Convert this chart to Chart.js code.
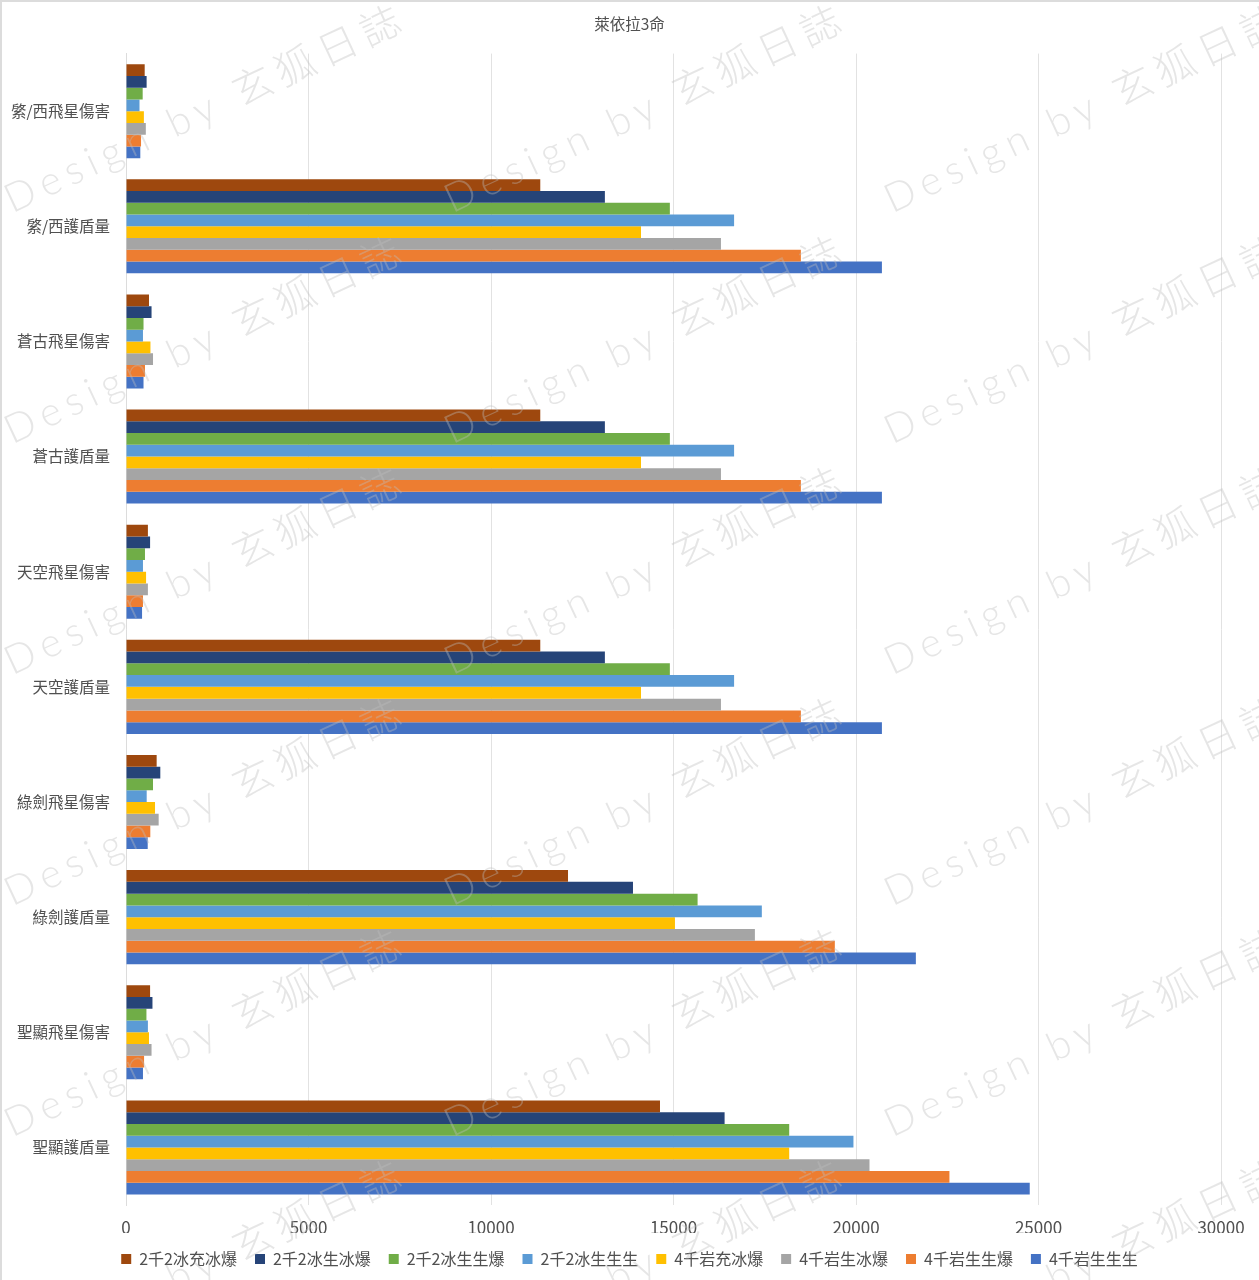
<!DOCTYPE html>
<html lang="zh-Hant">
<head>
<meta charset="utf-8">
<title>萊依拉3命</title>
<script src="https://cdn.jsdelivr.net/npm/chart.js@4/dist/chart.umd.min.js"></script>
<style>
    html, body { margin: 0; padding: 0; background: #fff; }
    #wrap { position: relative; width: 1259px; height: 1280px; overflow: hidden; }
    #wrap canvas { display: block; }
    #moldura { position: absolute; inset: 0; border-left: 2px solid #dcdcdc; border-top: 2px solid #dcdcdc; pointer-events: none; }
    .marca {
        position: absolute;
        transform-origin: 0 50%;
        transform: rotate(-25deg);
        white-space: nowrap;
        pointer-events: none;
        font-family: Lato, 'Noto Sans CJK TC', sans-serif;
        font-weight: 300;
        font-size: 40px;
        line-height: 40px;
        letter-spacing: 7px;
        color: rgba(190, 190, 190, 0.38);
    }
</style>
</head>
<body>
<div id="wrap">
    <canvas id="grafico" width="1259" height="1280"></canvas>
    <div id="moldura"></div>
</div>
<script>
// ── Dados ────────────────────────────────────────────────────────
const titulo = '萊依拉3命';

const categorias = [
    '綮/西飛星傷害', '綮/西護盾量',
    '蒼古飛星傷害', '蒼古護盾量',
    '天空飛星傷害', '天空護盾量',
    '綠劍飛星傷害', '綠劍護盾量',
    '聖顯飛星傷害', '聖顯護盾量'
];

const nomesSeries = [
    '2千2冰充冰爆', '2千2冰生冰爆', '2千2冰生生爆', '2千2冰生生生',
    '4千岩充冰爆', '4千岩生冰爆', '4千岩生生爆', '4千岩生生生'
];

const coresSeries = ['#9E480E', '#264478', '#70AD47', '#5B9BD5', '#FFC000', '#A5A5A5', '#ED7D31', '#4472C4'];

const serie2c2bCB = [512, 11350, 630, 11350, 600, 11350, 840, 12110, 660, 14630];
const serie2s2bCB = [565, 13120, 700, 13120, 660, 13120, 940, 13890, 725, 16400];
const serie2s2bSB = [457, 14900, 480, 14900, 520, 14900, 740, 15660, 560, 18170];
const serie2s2bSS = [370, 16660, 465, 16660, 465, 16660, 567, 17420, 600, 19930];
const serie4cCB   = [490, 14110, 670, 14110, 550, 14110, 795, 15040, 630, 18170];
const serie4sCB   = [543, 16300, 740, 16300, 600, 16300, 895, 17230, 700, 20370];
const serie4sSB   = [412, 18490, 520, 18490, 465, 18490, 666, 19420, 495, 22560];
const serie4sSS   = [392, 20710, 480, 20710, 440, 20710, 595, 21640, 465, 24760];

const valoresSeries = [serie2c2bCB, serie2s2bCB, serie2s2bSB, serie2s2bSS, serie4cCB, serie4sCB, serie4sSB, serie4sSS];

const marcaTexto = 'Design by 玄狐日誌';

const FONTE = "'Noto Sans CJK TC', sans-serif";
const COR_TEXTO = '#505050';

// ── Gráfico ──────────────────────────────────────────────────────
new Chart(document.getElementById('grafico').getContext('2d'), {
    type: 'bar',
    data: {
        labels: categorias,
        datasets: nomesSeries.map((nome, i) => ({
            label: nome,
            data: valoresSeries[i],
            backgroundColor: coresSeries[i],
            categoryPercentage: 0.817,
            barPercentage: 1
        }))
    },
    options: {
        indexAxis: 'y',
        responsive: false,
        animation: false,
        layout: { padding: { bottom: 3 } },
        plugins: {
            tooltip: { enabled: false },
            title: {
                display: true,
                text: titulo,
                color: COR_TEXTO,
                font: { family: FONTE, size: 15.5, weight: 'normal' },
                padding: { top: 15, bottom: 20 }
            },
            legend: {
                position: 'bottom',
                labels: {
                    boxWidth: 10,
                    boxHeight: 10,
                    padding: 18,
                    color: COR_TEXTO,
                    font: { family: FONTE, size: 16 }
                }
            }
        },
        scales: {
            x: {
                min: 0,
                max: 30000,
                afterFit: (escala) => { escala.height = 28; },
                grid: { color: '#e2e2e2', drawTicks: false },
                border: { display: false },
                ticks: {
                    stepSize: 5000,
                    padding: 12,
                    maxRotation: 0,
                    color: COR_TEXTO,
                    font: { family: FONTE, size: 17 },
                    callback: (v) => String(v)
                }
            },
            y: {
                afterFit: (escala) => { escala.width = 126; },
                grid: { display: false, drawTicks: false },
                border: { color: '#dcdcdc' },
                ticks: {
                    padding: 16,
                    autoSkip: false,
                    color: COR_TEXTO,
                    font: { family: FONTE, size: 15.5 }
                }
            },
            // eixo vazio só para reservar a margem direita sem descentralizar título e legenda
            margemDir: {
                axis: 'y',
                position: 'right',
                afterFit: (escala) => { escala.width = 38; },
                grid: { display: false, drawTicks: false },
                border: { display: false },
                ticks: { display: false }
            }
        }
    }
});

// ── Marca d'água ─────────────────────────────────────────────────
const wrap = document.getElementById('wrap');
for (let col = 0; col < 3; col++) {
    for (let lin = 0; lin < 6; lin++) {
        const marca = document.createElement('div');
        marca.className = 'marca';
        marca.textContent = marcaTexto;
        marca.style.left = (6 + col * 440) + 'px';
        marca.style.top = (180 + lin * 231) + 'px';
        wrap.appendChild(marca);
    }
}
</script>
</body>
</html>
